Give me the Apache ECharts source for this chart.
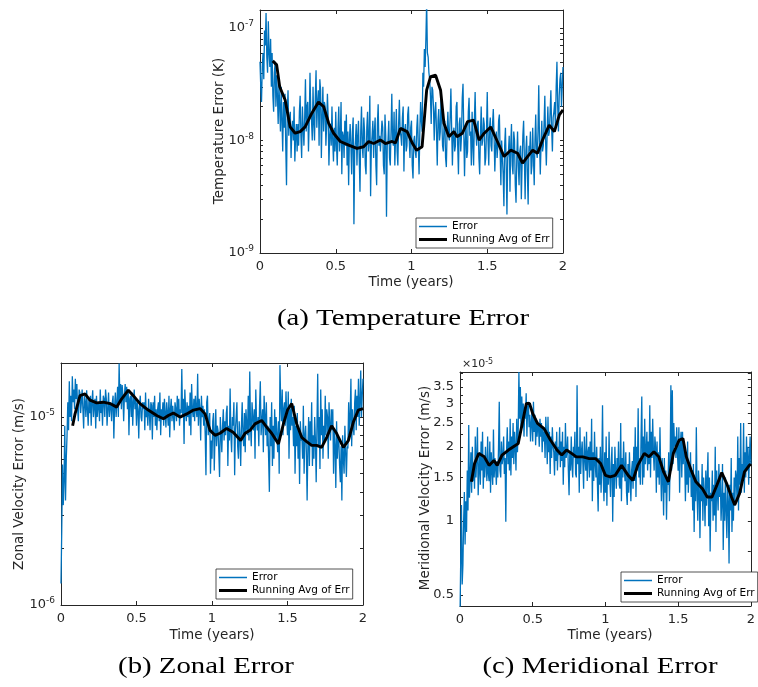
<!DOCTYPE html>
<html><head><meta charset="utf-8">
<script src="https://cdn.jsdelivr.net/npm/echarts@6/dist/echarts.min.js"></script>
<style>html,body{margin:0;padding:0;background:#fff}#c{width:758px;height:687px}</style>
</head><body><div id="c"></div>
<script>
// ---------- DATA ----------
const timeTicks = [0, 0.5, 1, 1.5, 2];
const seriesNames = ['Error', 'Running Avg of Err'];

// (a) Temperature error, units of 1e-9 K, evenly spaced over 0..2 years
const tempErr = [
 50,30,22,45,60,35,95,70,136,55,
 40,115,60,45,80,30,60,25,18,40,
 50,20,38,25,14,32,20,12,30,15,
 8,22,13,26,9,4,18,28,11,16,
 18,7,12,15,10,20,6.5,11,14,8,
 14,9,18,25,11,7,20,13,9,16,
 35,12,20,22,8,15,40,18,15,10,
 30,14,10,24,42,13,22,28,9,35,
 28,7,16,30,12,22,20,9,14,26,
 16,6,11,14,9,20,10,6.5,13,8,
 18,9,6,13,20,8,11,22,5,12,
 11,7,15,9,17,6,12,4,10,14,
 9,5,12,16,1.8,8,10,14,6,11,
 15,7,3.5,12,20,9,7,16,12,6,
 5,13,18,8,10,25,3.2,9,11,15,
 7,12,16,6,4,14,21,9,11,8,
 8,15,13,6,5,17,11,2.1,9,10,
 15,7,6,12,26,10,9,18,6,11,
 19,8,6,14,23,12,11,9,16,20,
 5.3,12,14,8,9,17,20,10,7,13,
 15,6,4.6,10,11,8,7,13,17,9,
 5,12,22,15,12,40,30,65,45,80,
 170,60,55,40,35,25,14,30,28,20,
 10,18,22,12,6,15,19,10,12,25,
 25,9,8,14,15,7,5.8,12,18,11,
 10,16,29,13,6,11,13,8,9,20,
 22,9,5,14,16,8,11,24,32,12,
 4.8,10,14,7,8,18,24,11,12,6,
 18,9,6,15,27,12,9,14,15,7,
 5,11,20,9,10,16,14,6,7,12,
 27,10,6,13,16,9,8,14,19,11,
 5.3,9,12,7,9,15,17,8,4,10,
 10,5,2.6,9,13,6,2.2,7,8,11,
 3.5,9,14,6,5,12,10,4,2.8,7,
 12,6,4,8,9,3,6,11,15,7,
 3,8,11,5,2.7,9,8,12,5,6,
 13,7,4,10,17,8,7,12,31,10,
 5,9,15,8,9,14,25,10,6,11,
 20,11,12,18,28,13,8,16,18,22,
 13,30,50,20,12,25,35,40,20,30,
 45];
const tempAvgT = [0.084,0.11,0.13,0.166,0.199,0.232,0.265,0.298,0.342,0.386,0.42,0.453,0.486,0.53,0.585,0.64,0.684,0.717,0.75,0.795,0.828,0.872,0.894,0.927,0.971,1.005,1.033,1.07,1.1,1.126,1.159,1.192,1.214,1.247,1.28,1.3,1.336,1.37,1.41,1.446,1.48,1.523,1.567,1.611,1.655,1.7,1.733,1.766,1.8,1.832,1.865,1.909,1.943,1.976,2.0];
const tempAvg = [51,47,30,22.9,13.2,11.6,12,13.2,17.5,22,20,14.3,11.6,9.8,9.1,8.5,8.8,9.8,9.4,10.1,9.4,9.8,9.5,12.8,12,9.5,8.2,8.8,28,37,38,28,14.2,10.8,12,10.8,11.6,14.7,15.2,10.1,11.6,13.2,9.8,7.2,8.2,7.7,6.3,7.2,8.2,7.7,10.1,13.7,12,16.9,18.7];

// (b) Zonal velocity error, units of 1e-6 m/s
const zonalErr = [
 1.3,2.5,5.6,3.4,4.5,9.0,3.6,6,8,12,
 8.5,15.5,10,13,9.5,16.5,12,14,11,16,
 12.5,15,11,9.5,14,13.5,10.5,12,14,11,
 8.7,13,12,10,13.9,11,9,12.5,10.5,13,
 9,12,13.9,10,11.5,12.5,8.7,13,10,12,
 11.5,9.5,14,10.5,12,9,13,12.5,10,14,
 12.5,9,11,13.5,10,12,11.5,9.5,12,13,
 7.7,11.5,13.5,10,12,14.5,10,19.3,12,15,
 11,14.8,13,9.5,13,15,12,14.5,11,14,
 8,12.5,13,10,13.5,9,12,14,11,12.5,
 9,12,11,7.7,11.5,13,10,9.5,12,11,
 12,8.5,13.5,10,11,9,12.5,10.5,8.5,12,
 11.5,7.6,12,10,13,9,11,8.5,11,12,
 9.5,13.5,8,11,10,12,9,12.5,10.5,8.8,
 12,10.5,9,13,7.8,11,12.5,9.5,11.5,10,
 8.5,12,11,9.5,13,10,12.5,9,11,10.5,
 18,10,12.5,7.2,14,11,9.5,12,10,11.5,
 9,13.5,8,15,11,10,12.5,9.5,13,11,
 10,17,9,12.5,11,7.5,13,10,11.5,9,
 11,8,4.9,12,13,8,9.5,10.5,5,7.5,
 6,9.5,10.5,5.2,8,11,7,9,8.5,6.5,
 4.8,10,8,6.5,9,11,7.5,9.5,8,10.5,
 11.5,5.5,9,7.5,14.2,8,6.5,10,9,12,
 4.9,8.5,10,12,7,6,9.5,8,5.5,9,
 12,8,7,10.5,6.5,11,9,8,13,7.5,
 17.5,9,7,12,10,8.5,11,6,14,9.5,
 8.5,10,7,11.5,15.5,8,9.5,11,6.5,13,
 10,8,12,7,9,6,4.0,10,7,12,
 5.5,9,6,11,7.5,10,8,6.5,9.5,5,
 18.9,12,9.5,14,8,11,12,9,13.7,10,
 8,13.7,6,11,8.5,12.5,9,10,7,11.5,
 5,9,7,10.5,6,8.5,4.4,9.5,7.5,8,
 6,11.5,5,8,9,6.5,3.6,7,10,5.5,
 9.5,7,12,5.5,8,6,10,7.5,4.5,9,
 17,7,10,5.3,14,8,11,6,9,7.5,
 13,8,11,10,6,12,9,7.5,11,8.5,
 11,5,8.5,7,4.2,9.5,6,8,7.5,5.5,
 4.5,7,3.6,8,6,5,9,6.5,4.8,7,
 6.8,12,8,10,16,7,11,9,8,12,
 14,8.5,13,10,16,9,12,17.7,10,13,
 16];
const zonalAvgT = [0.077,0.093,0.126,0.159,0.192,0.236,0.28,0.325,0.369,0.402,0.446,0.479,0.523,0.578,0.634,0.678,0.711,0.744,0.788,0.833,0.877,0.921,0.954,0.987,1.02,1.053,1.097,1.14,1.19,1.219,1.252,1.285,1.329,1.362,1.395,1.44,1.473,1.5,1.528,1.561,1.594,1.627,1.66,1.693,1.726,1.76,1.792,1.825,1.87,1.903,1.936,1.969,2.0];
const zonalAvg = [9.0,10.4,13.0,13.3,12.3,11.9,12.0,11.8,11.3,12.5,13.9,13.0,11.8,10.9,10.2,9.8,10.2,10.5,10.0,10.4,10.9,11.1,10.4,8.5,8.0,8.2,8.7,8.3,7.5,8.2,8.5,9.2,9.6,8.85,8.2,7.2,9.2,10.9,11.8,9.2,7.8,7.4,7.07,7.07,6.9,7.8,9.0,8.2,6.9,7.5,9.4,10.9,11.1];

// (c) Meridional velocity error, units of 1e-5 m/s (as on its axis)
const meridErr = [
 0.40,0.7,1.16,0.55,0.66,1.0,1.31,0.8,1.2,0.9,
 1.6,1.1,2.45,1.24,1.5,1.9,1.3,2.0,1.45,1.7,
 1.35,2.2,1.5,1.8,2.4,1.27,1.6,1.9,1.4,2.1,
 1.6,2.3,1.35,1.8,1.5,2.0,1.7,1.45,2.2,1.55,
 1.45,2.1,1.3,1.9,1.6,1.4,2.35,1.5,1.8,1.65,
 1.4,1.75,1.5,2.0,3.05,1.6,1.5,2.1,1.7,1.8,
 2.2,1.55,1.8,0.99,1.9,2.4,1.7,2.1,1.6,2.6,
 1.53,2.2,1.8,2.5,1.7,2.3,2.0,1.6,2.6,1.9,
 2.3,4.03,2.6,3.5,2.3,3.2,2.4,3.0,2.2,2.8,
 2.6,3.3,2.2,2.9,3.05,2.4,2.7,2.1,2.5,2.8,
 2.1,3.05,2.3,2.7,2.03,2.6,2.2,2.5,2.4,2.0,
 2.6,2.2,2.5,1.9,2.4,2.1,2.3,1.8,2.65,2.2,
 1.7,2.65,1.9,2.3,1.55,2.2,1.8,2.4,2.0,1.9,
 1.53,2.1,1.75,2.3,1.6,2.0,1.85,2.4,1.65,2.1,
 1.75,2.3,1.4,2.0,1.65,2.5,1.8,1.9,2.2,1.6,
 1.27,1.9,1.6,2.2,1.7,1.5,2.0,1.8,2.3,1.55,
 1.5,3.56,1.7,2.0,1.3,2.4,1.55,1.9,2.1,1.7,
 1.35,2.2,1.8,1.6,2.3,1.45,1.9,2.0,1.5,2.1,
 1.6,2.6,1.2,1.9,1.45,2.3,1.7,1.5,2.0,1.4,
 1.09,1.8,1.4,2.0,1.3,1.7,2.95,1.5,1.2,1.9,
 1.3,2.2,1.15,1.8,1.4,2.3,1.5,1.25,1.7,2.0,
 0.99,1.7,1.25,2.0,1.6,1.35,1.8,1.5,2.1,1.4,
 1.35,2.5,1.2,1.8,1.5,2.1,1.6,1.45,1.9,1.3,
 1.16,1.7,1.3,1.9,1.5,1.2,1.6,1.75,1.35,2.0,
 1.45,2.4,1.25,2.0,1.6,2.87,1.5,1.8,1.4,2.2,
 3.2,1.4,2.2,1.5,2.6,1.7,1.9,2.3,1.6,2.1,
 1.7,2.95,1.5,2.3,1.8,2.6,1.9,1.6,2.2,2.0,
 1.3,2.1,1.5,1.9,1.4,2.4,1.6,1.2,1.8,1.5,
 1.05,1.8,1.3,1.6,1.01,1.5,1.4,1.9,1.2,1.7,
 3.56,1.6,3.4,1.7,2.5,2.0,2.2,1.8,2.4,1.9,
 1.6,2.4,1.3,2.0,2.3,1.5,2.3,1.7,2.1,1.8,
 1.2,1.8,1.4,2.1,1.3,1.7,1.5,1.9,1.25,1.6,
 1.1,1.7,0.90,1.5,1.2,2.4,1.3,1.0,1.6,1.35,
 0.85,1.4,1.2,1.7,1.0,1.5,1.3,0.95,1.6,1.15,
 1.15,1.9,0.95,1.5,0.75,1.3,1.2,1.6,1.0,1.4,
 1.05,2.0,0.9,1.6,1.3,1.1,1.7,1.25,1.5,1.0,
 1.2,1.7,0.76,1.3,1.0,1.5,1.1,0.85,1.4,1.2,
 0.67,1.4,1.1,1.8,0.9,1.3,1.0,1.5,1.15,1.6,
 1.5,1.2,2.2,1.1,1.8,1.4,2.5,1.3,1.7,1.5,
 2.5,1.3,1.9,1.5,2.2,1.6,2.0,1.4,1.8,2.2,
 1.7];
const meridAvgT = [0.078,0.1,0.129,0.167,0.2,0.233,0.256,0.289,0.333,0.367,0.4,0.433,0.456,0.478,0.5,0.533,0.578,0.622,0.667,0.7,0.733,0.767,0.8,0.844,0.889,0.933,0.967,1.0,1.033,1.067,1.111,1.156,1.189,1.222,1.267,1.3,1.333,1.367,1.4,1.433,1.467,1.507,1.533,1.556,1.589,1.622,1.667,1.7,1.733,1.767,1.8,1.833,1.867,1.889,1.922,1.956,1.989,2.0];
const meridAvg = [1.44,1.71,1.88,1.82,1.68,1.76,1.68,1.85,1.94,2.0,2.06,2.57,3.0,3.0,2.73,2.49,2.37,2.13,1.94,1.85,1.94,1.88,1.82,1.82,1.79,1.79,1.71,1.53,1.51,1.53,1.68,1.53,1.46,1.68,1.88,1.82,1.91,1.82,1.58,1.44,1.88,2.13,2.16,1.82,1.61,1.44,1.35,1.25,1.25,1.40,1.57,1.42,1.25,1.16,1.29,1.58,1.68,1.7];

// y tick labels
const tempYLabels = [1e-9, 1e-8, 1e-7];
const zonalYLabels = [1e-6, 1e-5];
const meridYLabels = [0.5, 1, 1.5, 2, 2.5, 3, 3.5];

// ---------- BUILD ----------
const FONT = '"DejaVu Sans"';
const TXT = '#262626';
const AXC = '#262626';
const BLUE = '#0072BD';

function evenSeries(arr, scale) { const n = arr.length; return arr.map((v, i) => [2 * i / (n - 1), v * scale]); }
function pairSeries(ts, vs, scale) { return ts.map((t, i) => [t, vs[i] * scale]); }
function decadeTicks(lo, hi) { const out = []; for (let e = lo; e <= hi; e++) for (let m = 1; m <= 9; m++) out.push(m * Math.pow(10, e)); return out; }

const grids = [
  {left: 260, top: 10, width: 303, height: 243},
  {left: 61, top: 363, width: 302, height: 242},
  {left: 460, top: 372, width: 300, height: 234}
];

const xAxis = [], yAxis = [];
function addX(g) {
  const base = {type: 'value', gridIndex: g, min: 0, max: 2, interval: 0.5, splitLine: {show: false},
    axisLine: {show: true, onZero: false, lineStyle: {color: AXC, width: 1}},
    axisTick: {inside: true, length: 4, lineStyle: {color: AXC}}};
  xAxis.push(Object.assign({}, base, {position: 'bottom',
    axisLabel: {margin: 7, fontFamily: FONT, fontSize: 13, color: TXT, showMinLabel: true, showMaxLabel: true,
      customValues: timeTicks}}));
  xAxis.push(Object.assign({}, base, {position: 'top', axisLabel: {show: false}}));
}
function addY(g, min, max, labelVals, tickVals, formatter, rich) {
  const base = {type: 'log', logBase: 10, gridIndex: g, min: min, max: max, splitLine: {show: false},
    axisLine: {show: true, onZero: false, lineStyle: {color: AXC, width: 1}},
    axisTick: {inside: true, length: 3, customValues: tickVals, lineStyle: {color: AXC}}};
  const lab = {customValues: labelVals, margin: 6, fontFamily: FONT, fontSize: 13, color: TXT};
  if (formatter) lab.formatter = formatter;
  if (rich) lab.rich = rich;
  yAxis.push(Object.assign({}, base, {position: 'left', axisLabel: lab}));
  yAxis.push(Object.assign({}, base, {position: 'right', axisLabel: {show: false}}));
}
const powRich = {
  b: {fontFamily: FONT, fontSize: 13, color: TXT, verticalAlign: 'bottom', lineHeight: 13},
  s: {fontFamily: FONT, fontSize: 9, color: TXT, verticalAlign: 'bottom', lineHeight: 9, padding: [0, 0, 6, 0]}
};
const powFmt = v => '{b|10}{s|' + Math.round(Math.log10(v)) + '}';

addX(0); addY(0, 1e-9, 1.445e-7, tempYLabels, decadeTicks(-9, -7), powFmt, powRich);
addX(1); addY(1, 1e-6, 1.94e-5, zonalYLabels, decadeTicks(-6, -5), powFmt, powRich);
const meridTicks = [];
for (let k = 2; k <= 16; k++) meridTicks.push(k / 4);
addX(2); addY(2, 0.45, 4.03, meridYLabels, meridTicks, v => String(v), null);

const series = [];
function addSeries(g, err, errScale, avgT, avg) {
  series.push({name: seriesNames[0], type: 'line', xAxisIndex: 2 * g, yAxisIndex: 2 * g, symbol: 'none',
    clip: true, lineStyle: {color: BLUE, width: 1.3}, itemStyle: {color: BLUE}, data: evenSeries(err, errScale), z: 2});
  series.push({name: seriesNames[1], type: 'line', xAxisIndex: 2 * g, yAxisIndex: 2 * g, symbol: 'none',
    clip: true, lineStyle: {color: '#000', width: 2.9}, itemStyle: {color: '#000'}, data: pairSeries(avgT, avg, errScale), z: 3});
}
addSeries(0, tempErr, 1e-9, tempAvgT, tempAvg);
addSeries(1, zonalErr, 1e-6, zonalAvgT, zonalAvg);
addSeries(2, meridErr, 1, meridAvgT, meridAvg);

function legendAt(left, top) {
  return {left: left, top: top, orient: 'vertical', padding: [3, 3, 3, 3], itemGap: 2, itemWidth: 28, itemHeight: 11,
    backgroundColor: '#fff', borderColor: '#262626', borderWidth: 0.8, borderRadius: 0, selectedMode: false,
    itemStyle: {borderWidth: 0}, lineStyle: {width: 0},
    textStyle: {fontFamily: FONT, fontSize: 10.5, color: '#000'},
    data: [
      {name: seriesNames[0], icon: 'path://M0,0H28V1.5H0Z', itemStyle: {color: BLUE, borderWidth: 0}},
      {name: seriesNames[1], icon: 'path://M0,0H28V3H0Z', itemStyle: {color: '#000', borderWidth: 0}}
    ]};
}

function txt(x, y, text, font, rot, extra, fill) {
  return Object.assign({type: 'text', x: x, y: y, rotation: rot || 0, silent: true,
    style: {text: text, font: font, fill: fill || TXT, align: 'center', verticalAlign: 'middle'}}, extra || {});
}
const labelFont = '13.5px "DejaVu Sans"';
const capFont = '24px "Liberation Serif"';

const option = {
  animation: false,
  backgroundColor: '#fff',
  grid: grids,
  xAxis: xAxis,
  yAxis: yAxis,
  series: series,
  legend: [legendAt(416, 218), legendAt(216, 569), legendAt(621, 572)],
  graphic: [
    txt(411, 282, 'Time (years)', labelFont),
    txt(212, 635, 'Time (years)', labelFont),
    txt(610, 635, 'Time (years)', labelFont),
    txt(219, 131, 'Temperature Error (K)', labelFont, Math.PI / 2),
    txt(19, 484, 'Zonal Velocity Error (m/s)', labelFont, Math.PI / 2),
    txt(425, 488, 'Meridional Velocity Error (m/s)', labelFont, Math.PI / 2),
    {type: 'text', x: 462, y: 364, silent: true,
      style: {text: '×10{s|-5}', font: '11px "DejaVu Sans"', fill: TXT, align: 'left', verticalAlign: 'middle',
        rich: {s: {fontFamily: FONT, fontSize: 8, fill: TXT, verticalAlign: 'bottom', padding: [0, 0, 5, 0]}}}},
    txt(403, 319, '(a) Temperature Error', capFont, 0, {scaleX: 1.2}, '#000'),
    txt(206, 667, '(b) Zonal Error', capFont, 0, {scaleX: 1.2}, '#000'),
    txt(600, 667, '(c) Meridional Error', capFont, 0, {scaleX: 1.2}, '#000')
  ]
};

const chart = echarts.init(document.getElementById('c'), null, {renderer: 'canvas'});
chart.setOption(option);
</script>
</body></html>
